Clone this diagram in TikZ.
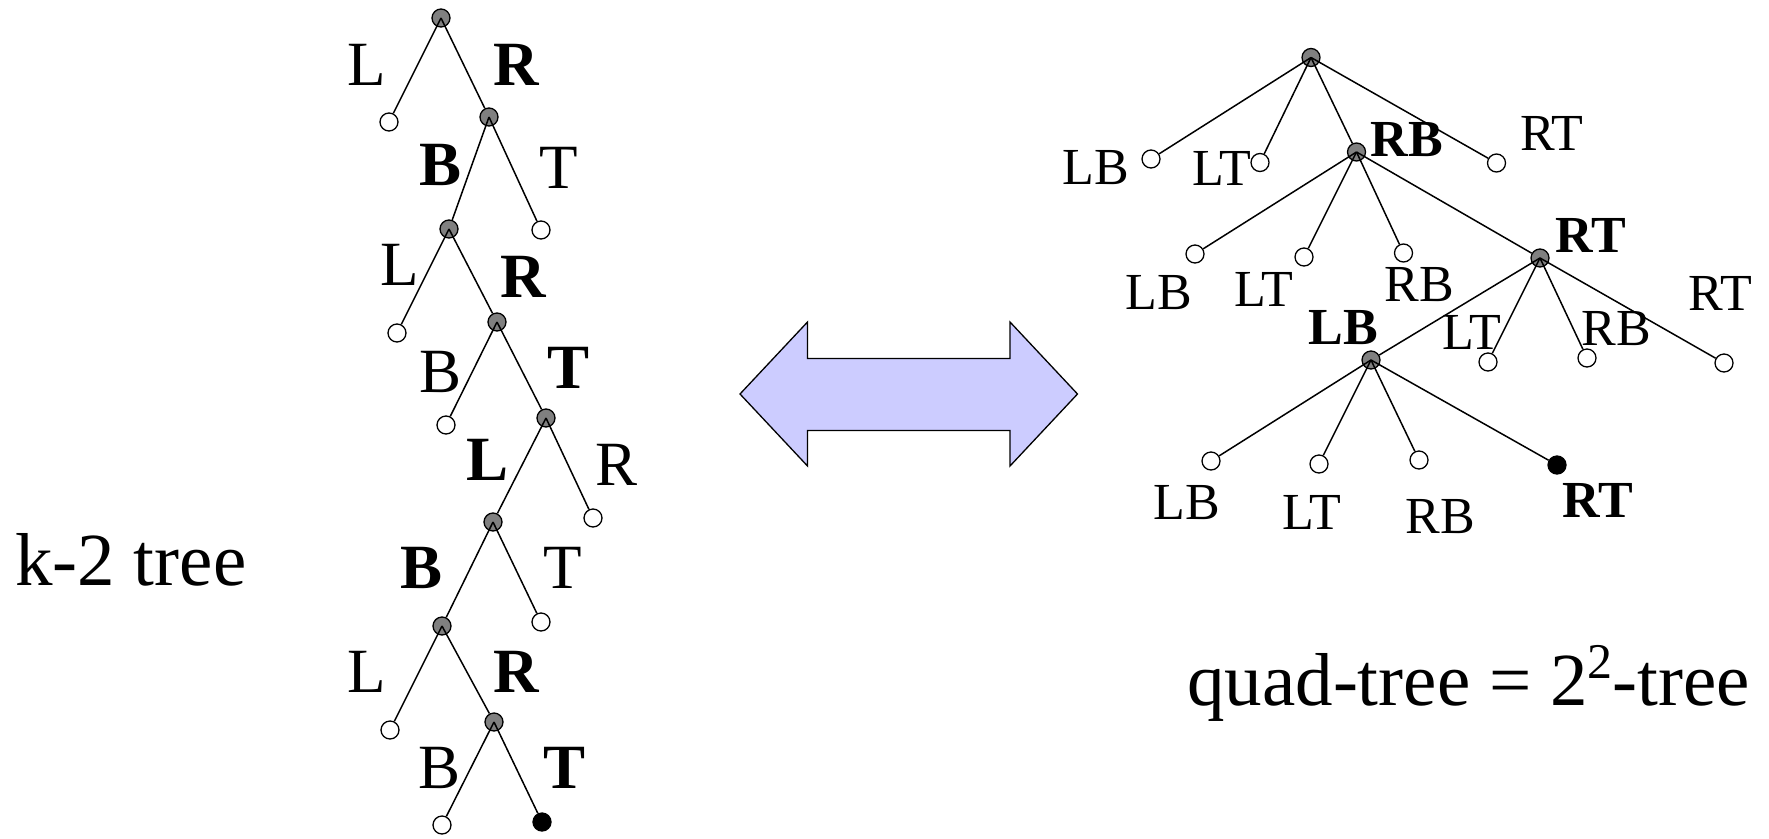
\documentclass[tikz,border=0pt]{standalone}
\usepackage{fontspec}
\setmainfont{Liberation Serif}
\definecolor{knot}{HTML}{808080}
\definecolor{arrowfill}{HTML}{CCCCFF}
\newcommand{\supdigit}[1]{\raisebox{0.36em}{\fontsize{50}{50}\selectfont #1}}
\begin{document}
\begin{tikzpicture}[x=1pt,y=-1pt,
  inode/.style={circle,draw,fill=knot,minimum size=18pt,inner sep=0pt,line width=1.3pt},
  leaf/.style={circle,draw,fill=white,minimum size=18pt,inner sep=0pt,line width=1.3pt},
  goal/.style={circle,draw,fill=black,minimum size=18pt,inner sep=0pt,line width=1.3pt},
  edge/.style={line width=1.5pt},
  blab/.style={inner sep=0pt,font=\fontsize{63}{63}\selectfont},
  bblab/.style={inner sep=0pt,font=\fontsize{63}{63}\selectfont\bfseries},
  qlab/.style={inner sep=0pt,font=\fontsize{52}{52}\selectfont},
  qblab/.style={inner sep=0pt,font=\fontsize{52}{52}\selectfont\bfseries},
  caption/.style={inner sep=0pt,anchor=base west}
]
\useasboundingbox (0,0) rectangle (1769,838);

% ---------- binary (k-2) tree ----------
\node[inode] (a0)  at (441,18)  {};
\node[leaf]  (a1)  at (389,122) {};
\node[inode] (a2)  at (489,117) {};
\node[inode] (a3)  at (449,229) {};
\node[leaf]  (a4)  at (541,230) {};
\node[leaf]  (a5)  at (397,333) {};
\node[inode] (a6)  at (497,322) {};
\node[leaf]  (a7)  at (446,425) {};
\node[inode] (a8)  at (546,418) {};
\node[inode] (a9)  at (493,522) {};
\node[leaf]  (a10) at (593,518) {};
\node[inode] (a11) at (442,626) {};
\node[leaf]  (a12) at (541,622) {};
\node[leaf]  (a13) at (390,730) {};
\node[inode] (a14) at (494,722) {};
\node[leaf]  (a15) at (442,825) {};
\node[goal]  (a16) at (542,822) {};

\foreach \p/\c in {a0/a1,a0/a2,a2/a3,a2/a4,a3/a5,a3/a6,a6/a7,a6/a8,
                   a8/a9,a8/a10,a9/a11,a9/a12,a11/a13,a11/a14,a14/a15,a14/a16}
  \draw[edge] (\p.center) -- (\c);

\node[blab]  (b1)  at (367,65)  {L};
\node[bblab] (b2)  at (516,65)  {R};
\node[bblab] (b3)  at (441,165) {B};
\node[blab]  (b4)  at (559,168) {T};
\node[blab]  (b5)  at (400,265) {L};
\node[bblab] (b6)  at (523,277) {R};
\node[blab]  (b7)  at (441,372) {B};
\node[bblab] (b8)  at (569,368) {T};
\node[bblab] (b9)  at (488,460) {L};
\node[blab]  (b10) at (617,465) {R};
\node[bblab] (b11) at (422,568) {B};
\node[blab]  (b12) at (563,568) {T};
\node[blab]  (b13) at (367,672) {L};
\node[bblab] (b14) at (516,672) {R};
\node[blab]  (b15) at (440,768) {B};
\node[bblab] (b16) at (565,768) {T};

% ---------- quad-tree ----------
\node[inode] (r0)  at (1311,57.5) {};
\node[leaf]  (r1)  at (1151,159)  {};
\node[leaf]  (r2)  at (1260,162.5){};
\node[inode] (r3)  at (1356.5,152){};
\node[leaf]  (r4)  at (1496.5,163){};
\node[leaf]  (r5)  at (1195,254)  {};
\node[leaf]  (r6)  at (1304,257)  {};
\node[leaf]  (r7)  at (1403.5,253){};
\node[inode] (r8)  at (1540,258)  {};
\node[inode] (r9)  at (1371,360)  {};
\node[leaf]  (r10) at (1488,362)  {};
\node[leaf]  (r11) at (1587,358)  {};
\node[leaf]  (r12) at (1724,363)  {};
\node[leaf]  (r13) at (1211,461)  {};
\node[leaf]  (r14) at (1319,464)  {};
\node[leaf]  (r15) at (1419,460)  {};
\node[goal]  (r16) at (1557,465)  {};

\foreach \p/\c in {r0/r1,r0/r2,r0/r3,r0/r4,r3/r5,r3/r6,r3/r7,r3/r8,
                   r8/r9,r8/r10,r8/r11,r8/r12,r9/r13,r9/r14,r9/r15,r9/r16}
  \draw[edge] (\p.center) -- (\c);

\node[qlab]  (q1)  at (1095.5,168) {LB};
\node[qlab]  (q2)  at (1222,168)   {LT};
\node[qblab] (q3)  at (1407,140)   {RB};
\node[qlab]  (q4)  at (1552,133)   {RT};
\node[qlab]  (q5)  at (1159,293)   {LB};
\node[qlab]  (q6)  at (1264,289)   {LT};
\node[qlab]  (q7)  at (1419,285)   {RB};
\node[qblab] (q8)  at (1591,235)   {RT};
\node[qblab] (q9)  at (1343,328)   {LB};
\node[qlab]  (q10) at (1472,332)   {LT};
\node[qlab]  (q11) at (1616,329)   {RB};
\node[qlab]  (q12) at (1720.5,293) {RT};
\node[qlab]  (q13) at (1187,503)   {LB};
\node[qlab]  (q14) at (1312,512)   {LT};
\node[qlab]  (q15) at (1440,517)   {RB};
\node[qblab] (q16) at (1598,500)   {RT};

% ---------- double arrow ----------
\draw[line width=1.3pt,fill=arrowfill,line join=miter]
  (740,394) -- (807.5,322) -- (807.5,358.5) -- (1010,358.5) -- (1010,322)
  -- (1077.5,394) -- (1010,466) -- (1010,430.5) -- (807.5,430.5) -- (807.5,466) -- cycle;

% ---------- captions ----------
\node[caption,font=\fontsize{75}{75}\selectfont] (cap1) at (15,585) {k-2 tree};
\node[caption,font=\fontsize{75}{75}\selectfont] (cap2) at (1187,705) {quad-tree = 2\supdigit{2}-tree};
\end{tikzpicture}
\end{document}
